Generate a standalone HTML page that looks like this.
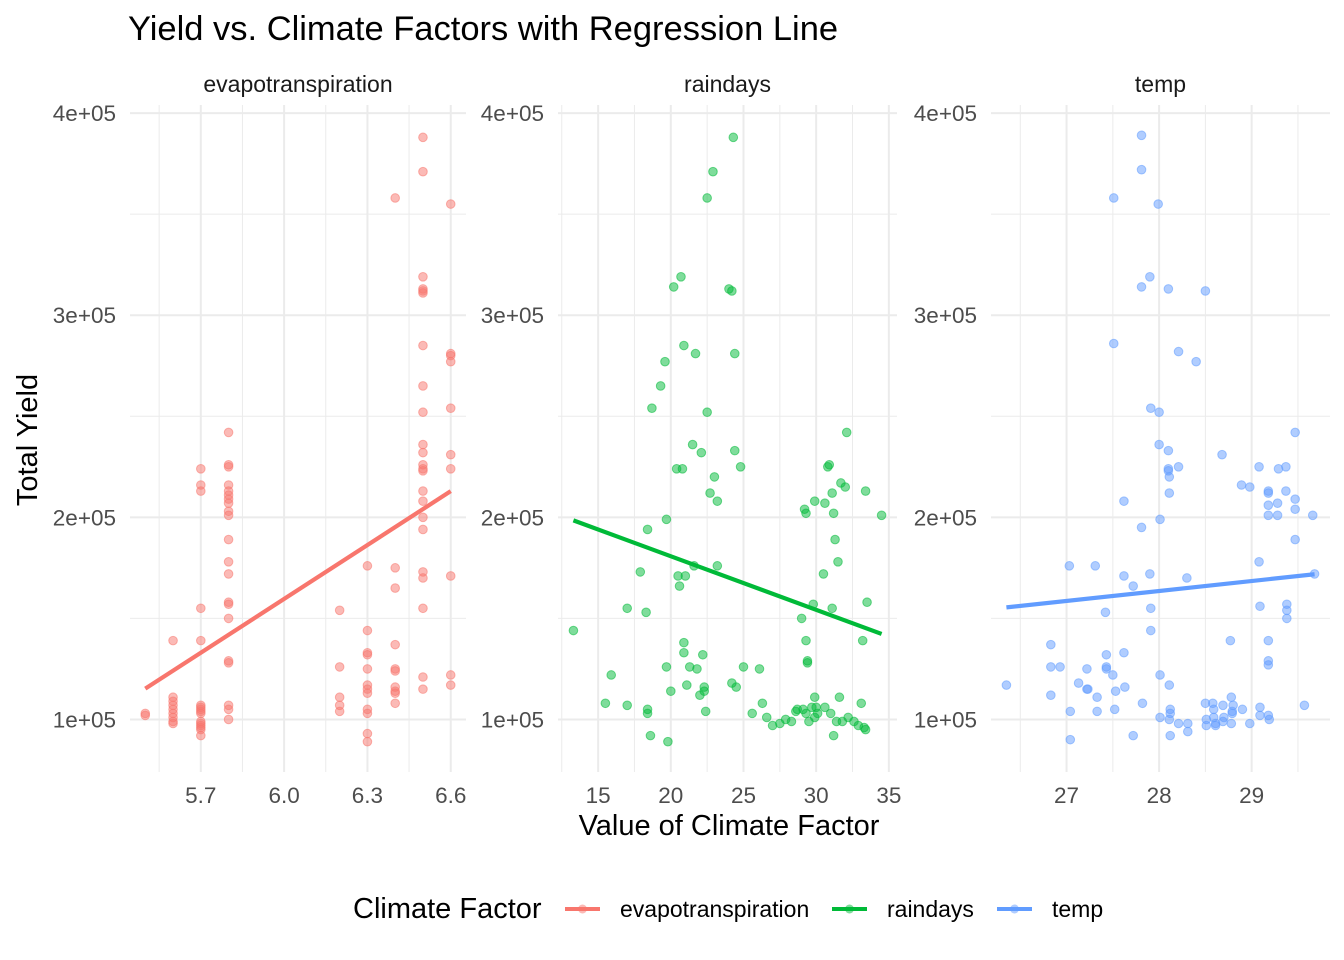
<!DOCTYPE html>
<html><head><meta charset="utf-8">
<style>
body{margin:0;background:#fff;}
svg{display:block;font-family:"Liberation Sans",Arial,sans-serif;}
</style></head>
<body>
<svg id="chart" width="1344" height="960">
<text x="128" y="40" font-size="34.5" fill="#000">Yield vs. Climate Factors with Regression Line</text>
<text x="729" y="835" font-size="29" text-anchor="middle" fill="#000">Value of Climate Factor</text>
<text transform="translate(37,440) rotate(-90)" font-size="29" text-anchor="middle" fill="#000">Total Yield</text>
<g id="grid"></g><g id="marks"></g>
<g>
<text x="353" y="918" font-size="29" fill="#000">Climate Factor</text>
<g>
<line x1="565" y1="909" x2="600" y2="909" stroke="#F8766D" stroke-width="4"/><circle cx="582.5" cy="909" r="4.5" fill="#F8766D" fill-opacity="0.5"/>
<text x="620" y="917" font-size="23" fill="#000">evapotranspiration</text></g>
<g>
<line x1="832" y1="909" x2="867" y2="909" stroke="#00BA38" stroke-width="4"/><circle cx="849.5" cy="909" r="4.5" fill="#00BA38" fill-opacity="0.5"/>
<text x="887" y="917" font-size="23" fill="#000">raindays</text></g>
<g>
<line x1="997" y1="909" x2="1032" y2="909" stroke="#619CFF" stroke-width="4"/><circle cx="1014.5" cy="909" r="4.5" fill="#619CFF" fill-opacity="0.5"/>
<text x="1052" y="917" font-size="23" fill="#000">temp</text></g>
</g>
</svg>
<script>
// yields in thousands
const evapX=[5.5,5.5, 5.6,5.6,5.6,5.6,5.6,5.6,5.6,5.6,5.6,
5.7,5.7,5.7,5.7,5.7,5.7,5.7,5.7,5.7,5.7,5.7,5.7,5.7,5.7,5.7,5.7,
5.8,5.8,5.8,5.8,5.8,5.8,5.8,5.8,5.8,5.8,5.8,5.8,5.8,5.8,5.8,5.8,5.8,5.8,5.8,5.8,5.8,
6.2,6.2,6.2,6.2,6.2,
6.3,6.3,6.3,6.3,6.3,6.3,6.3,6.3,6.3,6.3,6.3,6.3,
6.4,6.4,6.4,6.4,6.4,6.4,6.4,6.4,6.4,6.4,
6.5,6.5,6.5,6.5,6.5,6.5,6.5,6.5,6.5,6.5,6.5,6.5,6.5,6.5,6.5,6.5,6.5,6.5,6.5,6.5,6.5,6.5,6.5,
6.6,6.6,6.6,6.6,6.6,6.6,6.6,6.6,6.6,6.6];
const evapY=[102,103, 139,111,109,107,105,103,101,99,98,
224,216,213,155,139,107,106,105,104,103,99,98,97,96,95,92,
242,225,226,216,213,211,209,207,203,201,189,178,172,158,157,150,129,128,107,105,100,
154,126,111,107,104,
176,144,133,132,125,117,115,113,105,103,93,89,
358,175,165,137,125,124,116,114,113,108,
388,371,319,313,312,311,285,265,252,236,232,226,224,223,213,208,200,194,173,170,155,121,115,
355,281,280,277,254,231,224,171,122,117];
const rainX=[13.3,15.5,15.9,17.0,17.0,17.9,18.3,18.4,18.4,18.6,18.7,19.3,19.6,19.7,19.7,19.8,18.4,20.0,20.2,20.4,20.5,20.6,20.7,20.8,20.9,20.9,20.9,21.0,21.1,21.3,21.5,21.6,21.7,21.8,22.0,22.1,22.2,22.3,22.3,22.4,22.5,22.7,22.9,22.5,23.0,23.2,23.2,24.0,24.2,24.2,24.3,24.4,24.4,24.5,24.8,25.0,25.6,26.1,26.3,26.6,27.0,27.5,27.9,28.3,28.6,28.7,29.0,29.1,29.3,29.2,29.3,29.3,29.4,29.4,29.5,29.7,29.8,29.9,29.9,29.9,30.0,30.1,30.5,30.6,30.6,30.8,30.9,31.0,31.1,31.1,31.2,31.2,31.3,31.4,31.5,31.6,31.7,31.8,32.0,32.1,32.2,32.6,32.9,33.1,33.3,33.2,33.4,33.4,33.5,34.5];
const rainY=[144,108,122,107,155,173,153,105,103,92,254,265,277,199,126,89,194,114,314,224,171,166,319,224,285,138,133,171,117,126,236,176,281,125,112,232,132,114,116,104,252,212,371,358,220,208,176,313,312,118,388,233,281,116,225,126,103,125,108,101,97,98,100,99,104,105,150,105,103,204,202,139,129,128,99,106,157,111,101,208,106,103,172,207,106,225,226,103,155,212,202,92,189,99,178,111,217,99,215,242,101,99,97,108,96,139,213,95,158,201];
const tempX=[26.35,26.83,26.83,26.83,26.93,27.03,27.04,27.04,27.13,27.22,27.22,27.23,27.31,27.33,27.33,27.42,27.43,27.43,27.43,27.50,27.51,27.51,27.52,27.53,27.62,27.62,27.62,27.63,27.72,27.72,27.81,27.81,27.81,27.81,27.82,27.90,27.90,27.91,27.91,27.91,27.99,28.0,28.0,28.01,28.01,28.01,28.10,28.10,28.10,28.10,28.11,28.11,28.11,28.12,28.12,28.11,28.12,28.21,28.21,28.21,28.30,28.31,28.31,28.40,28.50,28.50,28.51,28.51,28.58,28.59,28.59,28.61,28.61,28.68,28.69,28.69,28.70,28.77,28.79,28.78,28.78,28.79,28.80,28.89,28.90,28.98,28.98,29.08,29.09,29.09,29.08,29.09,29.18,29.18,29.18,29.18,29.18,29.18,29.18,29.18,29.19,29.28,29.28,29.29,29.37,29.37,29.38,29.38,29.38,29.47,29.47,29.47,29.47,29.57,29.66,29.68];
const tempY=[117,137,126,112,126,176,104,90,118,115,125,115,176,111,104,153,132,125,126,122,358,286,105,114,208,171,133,116,166,92,389,372,314,195,108,319,172,155,144,254,355,252,236,199,122,101,313,233,224,223,220,212,117,105,103,100,92,282,225,98,170,98,94,277,312,108,100,97,108,105,101,98,97,231,107,99,101,139,103,98,111,104,107,216,105,215,98,225,156,106,178,102,213,212,206,201,139,129,127,102,100,207,201,224,225,213,157,154,150,242,209,204,189,107,201,172];
const yTicks=[100,200,300,400];
const yTickLabels=["1e+05","2e+05","3e+05","4e+05"];
const yMinor=[150,250,350];
const panelNames=["evapotranspiration","raindays","temp"];
const p1Ticks=[5.7,6.0,6.3,6.6], p1Labels=["5.7","6.0","6.3","6.6"], p1Minor=[5.55,5.85,6.15,6.45];
const p2Ticks=[15,20,25,30,35], p2Labels=["15","20","25","30","35"], p2Minor=[12.5,17.5,22.5,27.5,32.5];
const p3Ticks=[27,28,29], p3Labels=["27","28","29"], p3Minor=[26.5,27.5,28.5,29.5];

const NS="http://www.w3.org/2000/svg";
const grid=document.getElementById('grid'), marks=document.getElementById('marks');
function mk(tag,attrs,parent){const e=document.createElementNS(NS,tag);for(const k in attrs)e.setAttribute(k,attrs[k]);parent.appendChild(e);return e;}
const allY=evapY.concat(rainY,tempY);
const yMin=Math.min(...allY), yMax=Math.max(...allY), yr=yMax-yMin;
const yLo=yMin-0.05*yr, yHi=yMax+0.05*yr;
const TOP=105, BOT=772;
function ys(v){return BOT-(v-yLo)/(yHi-yLo)*(BOT-TOP);}
const panels=[
 {name:panelNames[0],xs:evapX,ysv:evapY,ticks:p1Ticks,labels:p1Labels,minor:p1Minor,L:130,R:466,col:"#F8766D"},
 {name:panelNames[1],xs:rainX,ysv:rainY,ticks:p2Ticks,labels:p2Labels,minor:p2Minor,L:558,R:897,col:"#00BA38"},
 {name:panelNames[2],xs:tempX,ysv:tempY,ticks:p3Ticks,labels:p3Labels,minor:p3Minor,L:991,R:1330,col:"#619CFF"}];
panels.forEach((p,pi)=>{
  const xmin=Math.min(...p.xs), xmax=Math.max(...p.xs), xr=xmax-xmin;
  const lo=xmin-0.05*xr, hi=xmax+0.05*xr;
  const xs=v=>p.L+(v-lo)/(hi-lo)*(p.R-p.L);
  const g=mk('g',{},grid);
  
  
  yMinor.forEach(v=>mk('line',{x1:p.L,x2:p.R,y1:ys(v),y2:ys(v),stroke:'#ebebeb','stroke-width':1},g));
  p.minor.forEach(v=>{if(v>=lo&&v<=hi)mk('line',{x1:xs(v),x2:xs(v),y1:TOP,y2:BOT,stroke:'#ebebeb','stroke-width':1},g);});
  yTicks.forEach((v,i)=>{
    mk('line',{x1:p.L,x2:p.R,y1:ys(v),y2:ys(v),stroke:'#ebebeb','stroke-width':2},g);
    const t=mk('text',{x:p.L-14,y:ys(v)+8,'font-size':22.5,fill:'#4d4d4d','text-anchor':'end'},g);
    t.textContent=yTickLabels[i];
    
    
  });
  p.ticks.forEach((v,i)=>{
    if(v<lo||v>hi)return;
    mk('line',{x1:xs(v),x2:xs(v),y1:TOP,y2:BOT,stroke:'#ebebeb','stroke-width':2},g);
    const t=mk('text',{x:xs(v),y:803,'font-size':22.5,fill:'#4d4d4d','text-anchor':'middle'},g);
    t.textContent=p.labels[i];
    
    
  });
  const st=mk('text',{x:(p.L+p.R)/2,y:92,'font-size':23,fill:'#1a1a1a','text-anchor':'middle'},g);
  st.textContent=p.name;
  
  
  const mg=mk('g',{},marks);
  
  
  p.xs.forEach((x,i)=>{
    const c=mk('circle',{cx:xs(x),cy:ys(p.ysv[i]),r:4.3,fill:p.col,'fill-opacity':0.5,stroke:p.col,'stroke-opacity':0.55,'stroke-width':1},mg);
    
    
  });
  const n=p.xs.length; let sx=0,sy=0,sxx=0,sxy=0;
  for(let i=0;i<n;i++){sx+=p.xs[i];sy+=p.ysv[i];sxx+=p.xs[i]*p.xs[i];sxy+=p.xs[i]*p.ysv[i];}
  const b=(n*sxy-sx*sy)/(n*sxx-sx*sx), a=(sy-b*sx)/n;
  const ln=mk('line',{x1:xs(xmin),y1:ys(a+b*xmin),x2:xs(xmax),y2:ys(a+b*xmax),stroke:p.col,'stroke-width':4.2},mg);
  
  
});
</script>
</body></html>
